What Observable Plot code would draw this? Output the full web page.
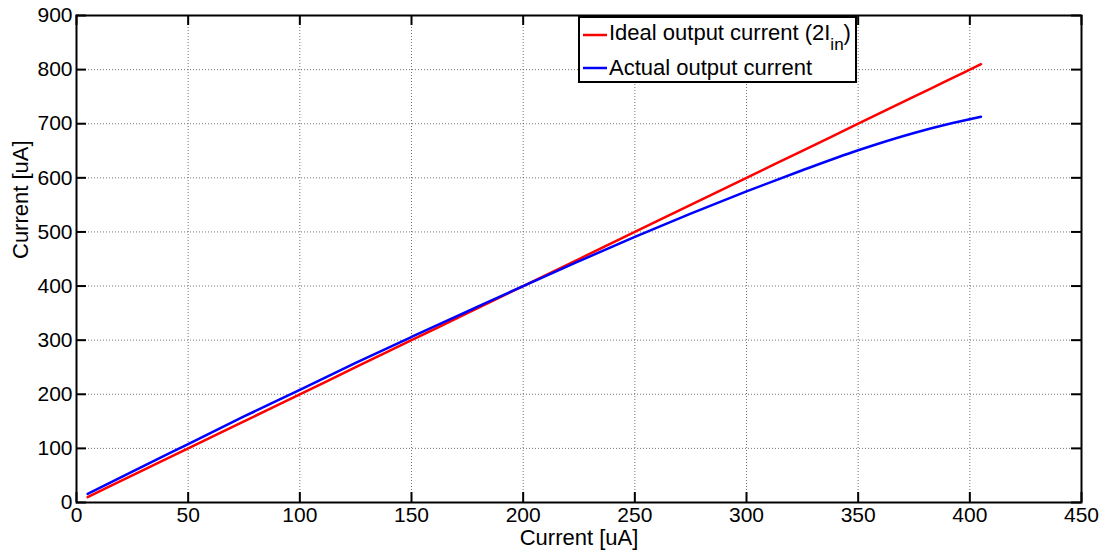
<!DOCTYPE html>
<html><head><meta charset="utf-8">
<script src="https://cdn.jsdelivr.net/npm/d3@7"></script>
<script src="https://cdn.jsdelivr.net/npm/@observablehq/plot@0.6"></script>
<style>
body{margin:0;background:#fff}
#wrap{position:relative;width:1105px;height:554px}
#leg{position:absolute;left:0;top:0;pointer-events:none}
</style>
</head><body><div id="wrap"></div>
<script>
const inputCurrent = [5, 25, 50, 75, 100, 125, 150, 175, 200, 225, 250, 275, 300, 325, 350, 375, 390, 405];
const idealOutput  = [10, 50, 100, 150, 200, 250, 300, 350, 400, 450, 500, 550, 600, 650, 700, 750, 780, 810];
const actualOutput = [16, 57, 108, 159, 208, 258, 306, 353, 400, 446, 491, 534, 575, 614, 651, 683, 699, 713];
const xTicks = [0, 50, 100, 150, 200, 250, 300, 350, 400, 450];
const yTicks = [0, 100, 200, 300, 400, 500, 600, 700, 800, 900];
const xLabel = "Current [uA]";
const yLabel = "Current [uA]";
const seriesNames = ["Ideal output current (2I", "Actual output current"];
const seriesColors = ["#ff0000", "#0000ff"];

const rows = inputCurrent.map((x, i) => ({x, ideal: idealOutput[i], actual: actualOutput[i]}));
const font = "'Liberation Sans', Arial, Helvetica, sans-serif";

const chart = Plot.plot({
  width: 1105, height: 554,
  marginLeft: 76, marginRight: 24, marginTop: 15, marginBottom: 52,
  style: {fontFamily: font, fontSize: "21px", color: "black", background: "white"},
  x: {domain: [0, 450]},
  y: {domain: [0, 900]},
  marks: [
    Plot.gridX(xTicks, {stroke: "#666", strokeOpacity: 0.9, strokeWidth: 1, strokeDasharray: "1,2"}),
    Plot.gridY(yTicks, {stroke: "#666", strokeOpacity: 0.9, strokeWidth: 1, strokeDasharray: "1,2"}),
    Plot.line(rows, {x: "x", y: "ideal", stroke: seriesColors[0], strokeWidth: 2.5, curve: "monotone-x"}),
    Plot.line(rows, {x: "x", y: "actual", stroke: seriesColors[1], strokeWidth: 2.5, curve: "monotone-x"}),
    Plot.ruleX(xTicks, {x: d => d, y1: 900, y2: 0, insetTop: 477, stroke: "black", strokeWidth: 2}),
    Plot.ruleX(xTicks, {x: d => d, y1: 900, y2: 0, insetBottom: 477, stroke: "black", strokeWidth: 2}),
    Plot.ruleY(yTicks, {y: d => d, x1: 0, x2: 450, insetRight: 995, stroke: "black", strokeWidth: 2}),
    Plot.ruleY(yTicks, {y: d => d, x1: 0, x2: 450, insetLeft: 995, stroke: "black", strokeWidth: 2}),
    Plot.frame({stroke: "black", strokeWidth: 2}),
    Plot.axisX(xTicks, {tickSize: 0, tickPadding: 5, label: null, fontSize: 21}),
    Plot.axisY(yTicks, {tickSize: 0, tickPadding: 4, label: null, fontSize: 21}),
    Plot.text([xLabel], {text: d => d, frameAnchor: "bottom", dy: 42, fontSize: 22}),
    Plot.text([yLabel], {text: d => d, frameAnchor: "left", rotate: -90, dx: -56, fontSize: 22})
  ]
});
document.getElementById("wrap").appendChild(chart);

// Legend overlay
const leg = d3.select("#wrap").append("svg").attr("id", "leg")
  .attr("width", 1105).attr("height", 554)
  .style("font-family", font);
leg.append("rect").attr("x", 579).attr("y", 17).attr("width", 277).attr("height", 65)
  .attr("fill", "white").attr("stroke", "black").attr("stroke-width", 2);
const ly = [35, 68];
const ty = [40, 75];
seriesNames.forEach((name, i) => {
  leg.append("line").attr("x1", 583).attr("x2", 607).attr("y1", ly[i]).attr("y2", ly[i])
    .attr("stroke", seriesColors[i]).attr("stroke-width", 2.5);
  const t = leg.append("text").attr("x", 609).attr("y", ty[i]).attr("font-size", 22).attr("fill", "black");
  t.append("tspan").text(name);
  if (i === 0) {
    t.append("tspan").attr("dy", 10).attr("font-size", 17).text("in");
    t.append("tspan").attr("dy", -10).text(")");
  }
});
</script>
</body></html>
